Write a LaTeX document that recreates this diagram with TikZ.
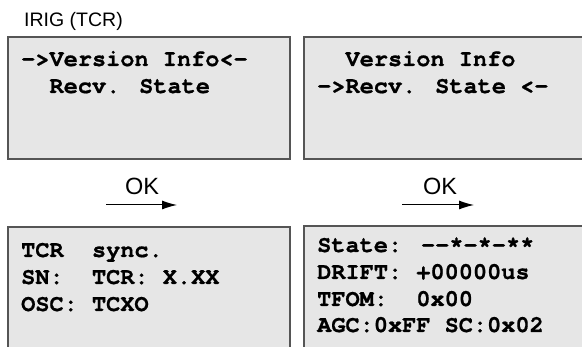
\documentclass[tikz,border=0pt]{standalone}
\usepackage{fontspec}
\setmainfont{Liberation Sans}
\newfontfamily\lcdfont{TeX Gyre Cursor}[BoldFeatures={FakeBold=0.8}]
\usetikzlibrary{arrows.meta}
\definecolor{lcdfill}{HTML}{E6E6E6}
\definecolor{lcdborder}{HTML}{555555}
\tikzset{
  lcd/.style={draw=lcdborder, fill=lcdfill, line width=1.3pt},
  lcdtext/.style={anchor=base west, inner sep=0pt, font=\lcdfont\bfseries\fontsize{23.6}{27}\selectfont},
  oklabel/.style={anchor=base, inner sep=0pt, font=\fontsize{23.5}{26}\selectfont},
  okarrow/.style={line width=1pt, -{Latex[length=15pt,width=9pt]}},
}
\begin{document}
\begin{tikzpicture}[x=1pt,y=-1pt]
\useasboundingbox (0,0) rectangle (582,347);
\clip (0,0) rectangle (582,347);
\node[anchor=base west, inner sep=0pt, font=\fontsize{19.5}{22}\selectfont] (title) at (24,27) {IRIG (TCR)};
% top boxes
\draw[lcd] (8,37) rectangle (290,159);
\draw[lcd] (304,37) rectangle (600,159);
% bottom boxes
\draw[lcd] (8,227) rectangle (290,370);
\draw[lcd] (304,226) rectangle (600,370);
% top-left text
\node[lcdtext] (tl1) at (21,66) {->Version Info<-};
\node[lcdtext] (tl2) at (21,93) {\ \ Recv. State};
% top-right text
\node[lcdtext] (tr1) at (317,66) {\ \ Version Info};
\node[lcdtext] (tr2) at (317,93) {->Recv. State <-};
% bottom-left text
\node[lcdtext] (bl1) at (21,257) {TCR\ \ sync.};
\node[lcdtext] (bl2) at (21,284) {SN:\ \ TCR: X.XX};
\node[lcdtext] (bl3) at (21,311) {OSC: TCXO};
% bottom-right text
\node[lcdtext] (br1) at (317,252) {State: --*-*-**};
\node[lcdtext] (br2) at (317,279) {DRIFT: +00000us};
\node[lcdtext] (br3) at (317,306) {TFOM:\ \ 0x00};
\node[lcdtext] (br4) at (317,332) {AGC:0xFF SC:0x02};
% arrows
\coordinate (a1s) at (106,205);
\coordinate (a1e) at (177,205);
\coordinate (a2s) at (402,205);
\coordinate (a2e) at (474,205);
\draw[okarrow] (a1s) -- (a1e);
\draw[okarrow] (a2s) -- (a2e);
\node[oklabel] (ok1) at (142,195) {OK};
\node[oklabel] (ok2) at (440,195) {OK};
\end{tikzpicture}
\end{document}
